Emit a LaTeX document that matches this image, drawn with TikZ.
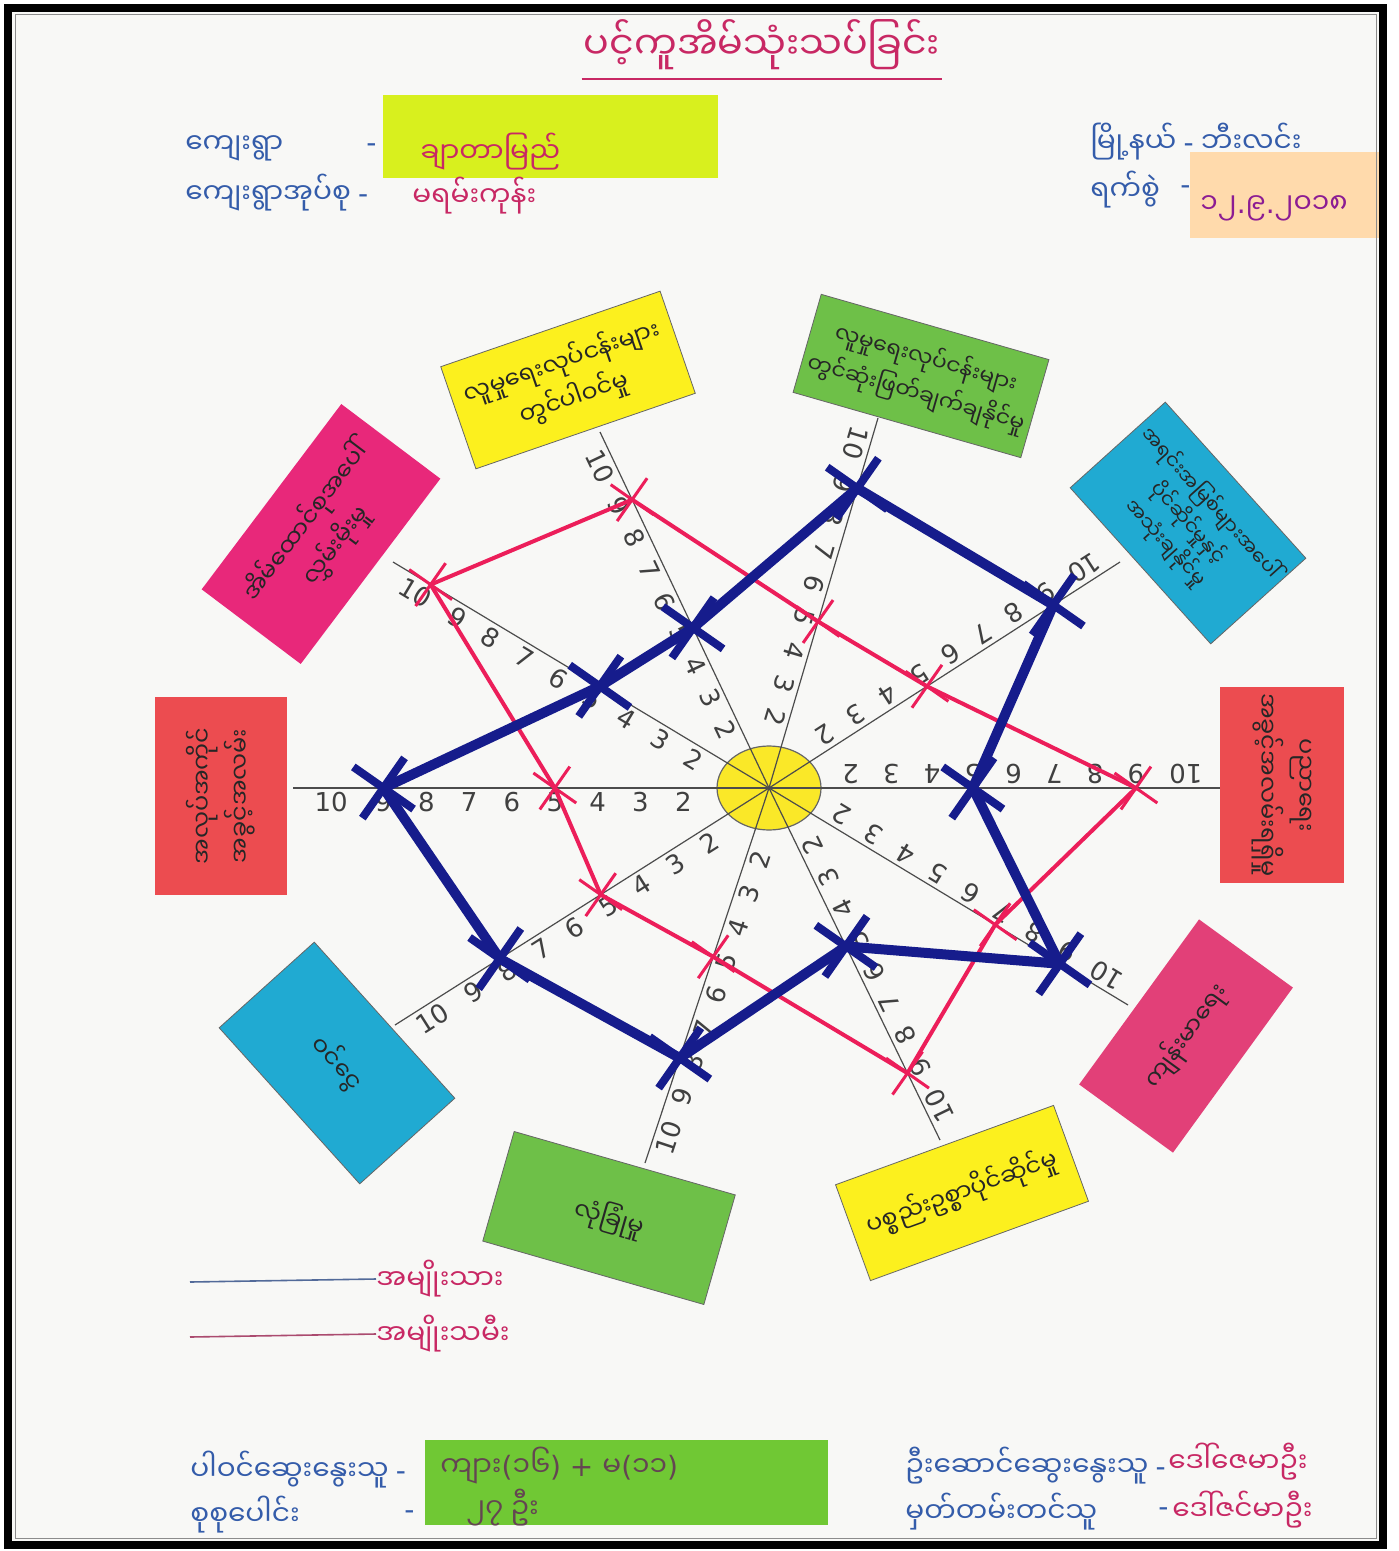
\documentclass[tikz,border=0pt]{standalone}
\usepackage{fontspec}
\setmainfont{DejaVu Sans}
\newfontfamily\mm[Script=Myanmar]{Noto Sans Myanmar UI}
\newcommand\lat[1]{{\normalfont #1}}
\usetikzlibrary{calc}
\usetikzlibrary{shapes.misc}

\definecolor{inkblue}{RGB}{22,28,140}
\definecolor{inkred}{RGB}{236,30,90}
\definecolor{hdrblue}{RGB}{52,92,170}
\definecolor{hdrmag}{RGB}{200,40,100}
\definecolor{cardyellow}{RGB}{252,240,30}
\definecolor{cardgreen}{RGB}{110,192,72}
\definecolor{cardpink}{RGB}{232,40,122}
\definecolor{cardrose}{RGB}{226,64,120}
\definecolor{cardred}{RGB}{236,76,80}
\definecolor{cardcyan}{RGB}{32,170,210}
\definecolor{limebox}{RGB}{216,240,30}
\definecolor{peachbox}{RGB}{255,218,172}
\definecolor{grassbox}{RGB}{112,200,52}
\definecolor{disc}{RGB}{250,232,40}
\definecolor{paper}{RGB}{248,248,246}

\begin{document}
\begin{tikzpicture}[x=0.5pt,y=-0.5pt,
    spoke/.style={draw=black!70, line width=0.6pt},
    num/.style={sloped, allow upside down, below, inner sep=2pt, font=\fontsize{13}{13}\selectfont, text=black!75},
    card/.style={align=center, inner sep=3pt, font=\mm\fontsize{12}{19}\selectfont, text=black!85},
    bpen/.style={draw=inkblue, line width=5pt, line join=round, line cap=round},
    rpen/.style={draw=inkred, line width=2pt, line join=round},
    bx/.style={cross out, draw=inkblue, line width=4pt, minimum size=22pt, inner sep=0pt, rotate=10},
    rx/.style={cross out, draw=inkred, line width=1.5pt, minimum size=17pt, inner sep=0pt, rotate=10},
    hdr/.style={anchor=west, inner sep=0pt, font=\mm\fontsize{14}{16}\selectfont, text=hdrblue},
    hand/.style={anchor=west, inner sep=0pt, font=\mm\fontsize{14}{16}\selectfont, text=hdrmag}]

    \useasboundingbox (0,0) rectangle (1398,1551);
    \fill[white] (0,0) rectangle (1398,1551);
    \fill[paper] (12,12) rectangle (1379,1541);

    % title
    \node[inner sep=1pt, font=\mm\fontsize{19}{22}\selectfont, text=hdrmag] (title) at (762,45) {ပင့်ကူအိမ်သုံးသပ်ခြင်း};
    \draw[hdrmag, line width=1pt] ([yshift=-3pt]title.south west) -- ([yshift=-3pt]title.south east);

    % village
    \fill[limebox] (383,95) rectangle (718,178);
    \node[hdr] (vil) at (185,148) {ကျေးရွာ};
    \node[hdr] (vildash) at (366,148) {\lat{-}};
    \node[hand] (vilname) at (420,152) {ချာတာမြည်};
    \node[hdr] (tract) at (185,193) {ကျေးရွာအုပ်စု \lat{-}};
    \node[hand] (tractname) at (412,196) {မရမ်းကုန်း};

    % township and date
    \fill[peachbox] (1190,152) rectangle (1379,238);
    \node[hdr] (town) at (1090,142) {မြို့နယ် \lat{-} ဘီးလင်း};
    \node[hdr] (day) at (1090,190) {ရက်စွဲ};
    \node[hdr] (daydash) at (1180,190) {\lat{-}};
    \node[hand, text=hdrmag!70!blue] (date) at (1200,208) {၁၂\lat{.}၉\lat{.}၂၀၁၈};

    % spokes
    \coordinate (o) at (769,788);
    \coordinate (a0) at (1222,788);
    \coordinate (a1) at (1120,562);
    \coordinate (a2) at (878,418);
    \coordinate (a3) at (600,432);
    \coordinate (a4) at (393,562);
    \coordinate (a5) at (293,788);
    \coordinate (a6) at (395,1025);
    \coordinate (a7) at (645,1163);
    \coordinate (a8) at (940,1140);
    \coordinate (a9) at (1128,1005);

    \filldraw[fill=disc, draw=black!60, line width=0.6pt] (o) ellipse [x radius=52, y radius=42];

    \draw[spoke] (a0) -- (o) node[num,pos=.08]{10} node[num,pos=.19]{9} node[num,pos=.28]{8} node[num,pos=.37]{7} node[num,pos=.46]{6} node[num,pos=.55]{5} node[num,pos=.64]{4} node[num,pos=.73]{3} node[num,pos=.82]{2};
    \draw[spoke] (a1) -- (o) node[num,pos=.08]{10} node[num,pos=.19]{9} node[num,pos=.28]{8} node[num,pos=.37]{7} node[num,pos=.46]{6} node[num,pos=.55]{5} node[num,pos=.64]{4} node[num,pos=.73]{3} node[num,pos=.82]{2};
    \draw[spoke] (a2) -- (o) node[num,pos=.08]{10} node[num,pos=.19]{9} node[num,pos=.28]{8} node[num,pos=.37]{7} node[num,pos=.46]{6} node[num,pos=.55]{5} node[num,pos=.64]{4} node[num,pos=.73]{3} node[num,pos=.82]{2};
    \draw[spoke] (a3) -- (o) node[num,pos=.08]{10} node[num,pos=.19]{9} node[num,pos=.28]{8} node[num,pos=.37]{7} node[num,pos=.46]{6} node[num,pos=.55]{5} node[num,pos=.64]{4} node[num,pos=.73]{3} node[num,pos=.82]{2};
    \draw[spoke] (a4) -- (o) node[num,pos=.08]{10} node[num,pos=.19]{9} node[num,pos=.28]{8} node[num,pos=.37]{7} node[num,pos=.46]{6} node[num,pos=.55]{5} node[num,pos=.64]{4} node[num,pos=.73]{3} node[num,pos=.82]{2};
    \draw[spoke] (a5) -- (o) node[num,pos=.08]{10} node[num,pos=.19]{9} node[num,pos=.28]{8} node[num,pos=.37]{7} node[num,pos=.46]{6} node[num,pos=.55]{5} node[num,pos=.64]{4} node[num,pos=.73]{3} node[num,pos=.82]{2};
    \draw[spoke] (a6) -- (o) node[num,pos=.08]{10} node[num,pos=.19]{9} node[num,pos=.28]{8} node[num,pos=.37]{7} node[num,pos=.46]{6} node[num,pos=.55]{5} node[num,pos=.64]{4} node[num,pos=.73]{3} node[num,pos=.82]{2};
    \draw[spoke] (a7) -- (o) node[num,pos=.08]{10} node[num,pos=.19]{9} node[num,pos=.28]{8} node[num,pos=.37]{7} node[num,pos=.46]{6} node[num,pos=.55]{5} node[num,pos=.64]{4} node[num,pos=.73]{3} node[num,pos=.82]{2};
    \draw[spoke] (a8) -- (o) node[num,pos=.08]{10} node[num,pos=.19]{9} node[num,pos=.28]{8} node[num,pos=.37]{7} node[num,pos=.46]{6} node[num,pos=.55]{5} node[num,pos=.64]{4} node[num,pos=.73]{3} node[num,pos=.82]{2};
    \draw[spoke] (a9) -- (o) node[num,pos=.08]{10} node[num,pos=.19]{9} node[num,pos=.28]{8} node[num,pos=.37]{7} node[num,pos=.46]{6} node[num,pos=.55]{5} node[num,pos=.64]{4} node[num,pos=.73]{3} node[num,pos=.82]{2};

    % cards
    \node[card, fill=cardred, minimum width=97pt, minimum height=62pt, rotate=-90] (c0) at (1282,785) {ပညာရေး\\အခွင့်အလမ်းရရှိမှု};
    \node[card, fill=cardcyan, draw=black!60, minimum width=105pt, minimum height=64pt, rotate=-48, font=\mm\fontsize{10}{15}\selectfont] (c1) at (1188,523) {အရင်းအမြစ်များအပေါ်\\ပိုင်ဆိုင်မှုနှင့်\\အသုံးချနိုင်မှု};
    \node[card, fill=cardgreen, draw=black!60, minimum width=117pt, minimum height=51pt, rotate=-16, font=\mm\fontsize{11}{18}\selectfont] (c2) at (921,376) {လူမှုရေးလုပ်ငန်းများ\\တွင်ဆုံးဖြတ်ချက်ချနိုင်မှု};
    \node[card, fill=cardyellow, draw=black!60, minimum width=116pt, minimum height=54pt, rotate=19] (c3) at (568,380) {လူမှုရေးလုပ်ငန်းများ\\တွင်ပါဝင်မှု};
    \node[card, fill=cardpink, minimum width=116pt, minimum height=62pt, rotate=53] (c4) at (321,534) {အိမ်ထောင်စုအပေါ်\\လွှမ်းမိုးမှု};
    \node[card, fill=cardred, minimum width=99pt, minimum height=66pt, rotate=90] (c5) at (221,796) {အလုပ်အကိုင်\\အခွင့်အလမ်း};
    \node[card, fill=cardcyan, draw=black!60, minimum width=105pt, minimum height=64pt, rotate=-48] (c6) at (337,1063) {ဝင်ငွေ};
    \node[card, fill=cardgreen, draw=black!60, minimum width=115pt, minimum height=57pt, rotate=-16] (c7) at (609,1218) {လုံခြုံမှု};
    \node[card, fill=cardyellow, draw=black!60, minimum width=116pt, minimum height=51pt, rotate=20] (c8) at (962,1193) {ပစ္စည်းဥစ္စာပိုင်ဆိုင်မှု};
    \node[card, fill=cardrose, minimum width=102pt, minimum height=58pt, rotate=54] (c9) at (1186,1036) {ကျန်းမာရေး};

    % women (red) and men (blue) scores
    \coordinate (r0) at ($(o)!.81!(a0)$);
    \coordinate (r1) at ($(o)!.45!(a1)$);
    \coordinate (r2) at ($(o)!.45!(a2)$);
    \coordinate (r3) at ($(o)!.81!(a3)$);
    \coordinate (r4) at ($(o)!.90!(a4)$);
    \coordinate (r5) at ($(o)!.45!(a5)$);
    \coordinate (r6) at ($(o)!.45!(a6)$);
    \coordinate (r7) at ($(o)!.45!(a7)$);
    \coordinate (r8) at ($(o)!.81!(a8)$);
    \coordinate (r9) at ($(o)!.63!(a9)$);

    \coordinate (b0) at ($(o)!.45!(a0)$);
    \coordinate (b1) at ($(o)!.81!(a1)$);
    \coordinate (b2) at ($(o)!.81!(a2)$);
    \coordinate (b3) at ($(o)!.45!(a3)$);
    \coordinate (b4) at ($(o)!.45!(a4)$);
    \coordinate (b5) at ($(o)!.81!(a5)$);
    \coordinate (b6) at ($(o)!.72!(a6)$);
    \coordinate (b7) at ($(o)!.72!(a7)$);
    \coordinate (b8) at ($(o)!.45!(a8)$);
    \coordinate (b9) at ($(o)!.81!(a9)$);

    \draw[rpen] (r0) -- (r1) -- (r2) -- (r3) -- (r4) -- (r5) -- (r6) -- (r7) -- (r8) -- (r9) -- cycle;
    \node[rx] (xr0) at (r0) {};
    \node[rx] (xr1) at (r1) {};
    \node[rx] (xr2) at (r2) {};
    \node[rx] (xr3) at (r3) {};
    \node[rx] (xr4) at (r4) {};
    \node[rx] (xr5) at (r5) {};
    \node[rx] (xr6) at (r6) {};
    \node[rx] (xr7) at (r7) {};
    \node[rx] (xr8) at (r8) {};
    \node[rx] (xr9) at (r9) {};

    \draw[bpen] (b0) -- (b1) -- (b2) -- (b3) -- (b4) -- (b5) -- (b6) -- (b7) -- (b8) -- (b9) -- cycle;
    \node[bx] (xb0) at (b0) {};
    \node[bx] (xb1) at (b1) {};
    \node[bx] (xb2) at (b2) {};
    \node[bx] (xb3) at (b3) {};
    \node[bx] (xb4) at (b4) {};
    \node[bx] (xb5) at (b5) {};
    \node[bx] (xb6) at (b6) {};
    \node[bx] (xb7) at (b7) {};
    \node[bx] (xb8) at (b8) {};
    \node[bx] (xb9) at (b9) {};

    % legend
    \coordinate (lgm0) at (190,1282);
    \node[hand] (lgm) at (376,1279) {အမျိုးသား};
    \draw[hdrblue!60!gray, line width=0.8pt] (lgm0) -- (lgm.west);
    \coordinate (lgf0) at (190,1337);
    \node[hand] (lgf) at (376,1334) {အမျိုးသမီး};
    \draw[hdrmag!60!gray, line width=0.8pt] (lgf0) -- (lgf.west);

    % participants
    \fill[grassbox] (425,1440) rectangle (828,1525);
    \node[hdr] (part) at (190,1470) {ပါဝင်ဆွေးနွေးသူ \lat{-}};
    \node[hdr] (total) at (190,1515) {စုစုပေါင်း};
    \node[hdr] (totaldash) at (404,1515) {\lat{-}};
    \node[hand, text=black!70!magenta] (count) at (440,1466) {ကျား\lat{(}၁၆\lat{) + }မ\lat{(}၁၁\lat{)}};
    \node[hand, text=black!70!magenta] (sum) at (466,1508) {၂၇ ဦး};

    \node[hdr] (lead) at (905,1466) {ဦးဆောင်ဆွေးနွေးသူ \lat{-}};
    \node[hdr] (rec) at (905,1512) {မှတ်တမ်းတင်သူ};
    \node[hdr] (recdash) at (1158,1512) {\lat{-}};
    \begin{scope}
        \clip (0,0) rectangle (1378,1551);
        \node[hand] (leadname) at (1168,1462) {ဒေါ်ဇေမာဦး};
        \node[hand] (recname) at (1172,1510) {ဒေါ်ဇင်မာဦး};
    \end{scope}

    % frame
    \draw[black!45, line width=0.5pt] (15,15) rectangle (1376,1538);
    \draw[line width=4pt] (8,8) rectangle (1383,1545);
\end{tikzpicture}
\end{document}
